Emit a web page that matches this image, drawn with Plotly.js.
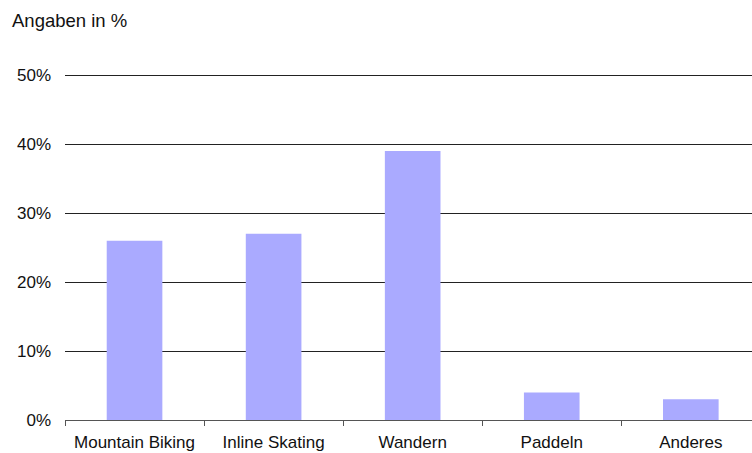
<!DOCTYPE html>
<html><head><meta charset="utf-8">
<script src="https://cdn.plot.ly/plotly-3.0.1.min.js"></script>
<style>html,body{margin:0;padding:0;background:#fff}#chart{width:752px;height:453px}</style>
</head><body><div id="chart"></div>
<script>
const categories = ["Mountain Biking", "Inline Skating", "Wandern", "Paddeln", "Anderes"];
const values = [26, 27, 39, 4, 3];
const yTicks = [0, 10, 20, 30, 40, 50];
const yTickLabels = ["0%", "10%", "20%", "30%", "40%", "50%"];
const unitLabel = "Angaben in %";

const fam = "Liberation Sans, Arial, Helvetica, sans-serif";
const font = {family: fam, size: 17, color: "#111"};

Plotly.newPlot("chart", [{
  type: "bar",
  x: categories,
  y: values,
  marker: {color: "#aaaaff"},
  hoverinfo: "none"
}], {
  width: 752, height: 453,
  margin: {l: 65, r: 0, t: 73, b: 33, pad: 0},
  paper_bgcolor: "#fff", plot_bgcolor: "#fff",
  font: font,
  showlegend: false,
  bargap: 0.6,
  title: {text: unitLabel, font: {family: fam, size: 18.5, color: "#111"}, xref: "container", yref: "container", x: 12/752, xanchor: "left", y: 1 - 21/453, yanchor: "middle"},
  xaxis: {
    type: "category",
    range: [-0.5, 4.44],
    showgrid: false,
    showline: true, linecolor: "#555", linewidth: 1,
    ticks: "outside", tickson: "boundaries", ticklen: 5, tickcolor: "#555", tickwidth: 1,
    ticklabelstandoff: 7,
    tickfont: font,
    fixedrange: true
  },
  yaxis: {
    range: [0, 50.3],
    tickvals: yTicks, ticktext: yTickLabels,
    showgrid: true, gridcolor: "#222", gridwidth: 1,
    zeroline: false, showline: false, ticks: "",
    ticklabelstandoff: 13,
    tickfont: font,
    fixedrange: true
  }
}, {staticPlot: true, displayModeBar: false});
</script></body></html>
